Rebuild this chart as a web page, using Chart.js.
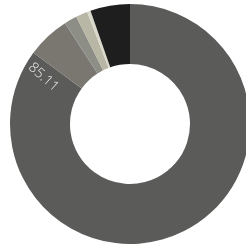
<!DOCTYPE html>
<html>
<head>
<meta charset="utf-8">
<script src="https://cdn.jsdelivr.net/npm/chart.js@4/dist/chart.umd.min.js"></script>
<style>
  html, body { margin: 0; padding: 0; background: #fff; overflow: hidden; }
  #wrap { width: 260px; height: 248px; }
</style>
</head>
<body>
<div id="wrap"><canvas id="pie" width="260" height="248"></canvas></div>
<script>
const labels = ["A", "B", "C", "D", "E", "F"];
const values = [85.11, 5.78, 1.72, 1.58, 0.47, 5.34];
const colors = ["#5b5c5a", "#7a7770", "#8d8e86", "#b8b6a4", "#d9d8cb", "#1e1e1e"];
const shownLabels = ["85.11", "", "", "", "", ""];

// rotated value label near the end of the slice
const radialLabels = {
  id: "radialLabels",
  afterDatasetsDraw(chart) {
    const ctx = chart.ctx;
    chart.getDatasetMeta(0).data.forEach((arc, i) => {
      if (!shownLabels[i]) return;
      const a = arc.endAngle - 0.14;
      const r = arc.innerRadius + (arc.outerRadius - arc.innerRadius) * 0.64;
      const x = arc.x + Math.cos(a) * r;
      const y = arc.y + Math.sin(a) * r;
      ctx.save();
      ctx.translate(x, y);
      ctx.rotate(a + Math.PI + 0.24);
      ctx.font = "300 14px 'Open Sans'";
      ctx.fillStyle = "#ececec";
      ctx.textAlign = "center";
      ctx.textBaseline = "middle";
      ctx.fillText(shownLabels[i], 0, 0);
      ctx.restore();
    });
  }
};

new Chart(document.getElementById("pie").getContext("2d"), {
  type: "doughnut",
  data: {
    labels: labels,
    datasets: [{
      data: values,
      backgroundColor: colors,
      borderWidth: 0
    }]
  },
  options: {
    responsive: false,
    animation: false,
    cutout: "50%",
    layout: { padding: 4 },
    plugins: {
      legend: { display: false },
      tooltip: { enabled: false }
    }
  },
  plugins: [radialLabels]
});
</script>
</body>
</html>
